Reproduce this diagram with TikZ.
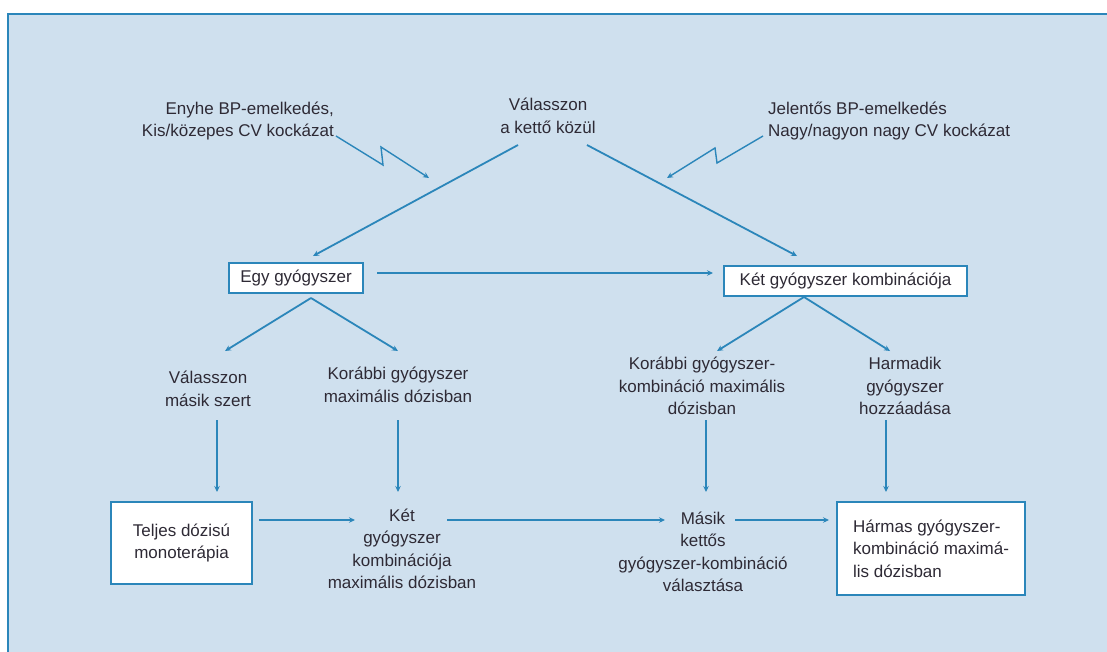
\documentclass[tikz,border=0pt]{standalone}
\usepackage{fontspec}
\setmainfont{Liberation Sans}
\usetikzlibrary{arrows.meta}
\definecolor{bg}{HTML}{CFE0EE}
\definecolor{ln}{HTML}{2B86BA}
\definecolor{tx}{HTML}{2E2A35}
\begin{document}
\begin{tikzpicture}[x=1pt,y=-1pt,
  font=\fontsize{17}{22.5}\selectfont,
  lbl/.style={text=tx, align=center, inner sep=0pt},
  box/.style={draw=ln, line width=1.9pt, fill=white, text=tx, align=center, inner sep=0pt},
  arr/.style={draw=ln, line width=1.8pt, -{Stealth[length=6pt,width=5.5pt]}},
  zig/.style={draw=ln, line width=1.4pt, line join=miter, -{Stealth[length=6pt,width=5.5pt]}}]
\useasboundingbox (0,0) rectangle (1107,651);
\fill[white] (0,0) rectangle (1107,651);
\fill[bg] (7,13) rectangle (1115,660);
\draw[ln, line width=2.8pt] (8,660) |- (1115,14);

% texts
\node[lbl, align=right, anchor=east] (tl) at (334,121) {Enyhe BP-emelkedés,\\Kis/közepes CV kockázat};
\node[lbl] (choose) at (548,116) {Válasszon\\a kettő közül};
\node[lbl, align=left, anchor=west] (tr) at (768,121) {Jelentős BP-emelkedés\\Nagy/nagyon nagy CV kockázat};

\node[box, minimum width=134pt, minimum height=30pt] (egy) at (296,278) {Egy gyógyszer};
\node[box, minimum width=243pt, minimum height=30pt] (ket) at (845.5,281) {Két gyógyszer kombinációja};

\node[lbl] (valm) at (208,389) {Válasszon\\másik szert};
\node[lbl] (korm) at (398,385) {Korábbi gyógyszer\\maximális dózisban};
\node[lbl] (korkomb) at (702,386) {Korábbi gyógyszer-\\kombináció maximális\\dózisban};
\node[lbl] (harm) at (905,386) {Harmadik\\gyógyszer\\hozzáadása};

\node[box, minimum width=141pt, minimum height=82pt] (teljes) at (181.5,543) {Teljes dózisú\\monoterápia};
\node[lbl] (ketmax) at (402,549) {Két\\gyógyszer\\kombinációja\\maximális dózisban};
\node[lbl] (masik) at (703,552) {Másik\\kettős\\gyógyszer-kombináció\\választása};
\node[box, align=left, minimum width=188pt, minimum height=93pt] (harmas) at (931,548.5) {Hármas gyógyszer-\\kombináció maximá-\\lis dózisban};

% coordinates
\coordinate (z1s) at (336,136);
\coordinate (z1a) at (383,165); \coordinate (z1b) at (381,147); \coordinate (z1e) at (429,178);
\coordinate (z2s) at (763,136);
\coordinate (z2a) at (717,163); \coordinate (z2b) at (715,148); \coordinate (z2e) at (667,178);
\coordinate (c1s) at (518,145); \coordinate (c1e) at (313,256);
\coordinate (c2s) at (587,145); \coordinate (c2e) at (797,256);
\coordinate (h1s) at (377,273); \coordinate (h1e) at (713,273);
\coordinate (ea) at (311,298); \coordinate (el) at (225,351); \coordinate (er) at (398,351);
\coordinate (ka) at (804,297); \coordinate (kl) at (717,351); \coordinate (kr) at (890,351);
\coordinate (v1s) at (217,420); \coordinate (v1e) at (217,492);
\coordinate (v2s) at (398,420); \coordinate (v2e) at (398,492);
\coordinate (v3s) at (706,420); \coordinate (v3e) at (706,492);
\coordinate (v4s) at (886,420); \coordinate (v4e) at (886,492);
\coordinate (b1s) at (259,520); \coordinate (b1e) at (355,520);
\coordinate (b2s) at (447,520); \coordinate (b2e) at (665,520);
\coordinate (b3s) at (735,520); \coordinate (b3e) at (829,520);

% connectors
\draw[zig] (z1s) -- (z1a) -- (z1b) -- (z1e);
\draw[zig] (z2s) -- (z2a) -- (z2b) -- (z2e);
\draw[arr] (c1s) -- (c1e);
\draw[arr] (c2s) -- (c2e);
\draw[arr] (h1s) -- (h1e);
\draw[arr] (ea) -- (el);
\draw[arr] (ea) -- (er);
\draw[arr] (ka) -- (kl);
\draw[arr] (ka) -- (kr);
\draw[arr] (v1s) -- (v1e);
\draw[arr] (v2s) -- (v2e);
\draw[arr] (v3s) -- (v3e);
\draw[arr] (v4s) -- (v4e);
\draw[arr] (b1s) -- (b1e);
\draw[arr] (b2s) -- (b2e);
\draw[arr] (b3s) -- (b3e);
\end{tikzpicture}
\end{document}
